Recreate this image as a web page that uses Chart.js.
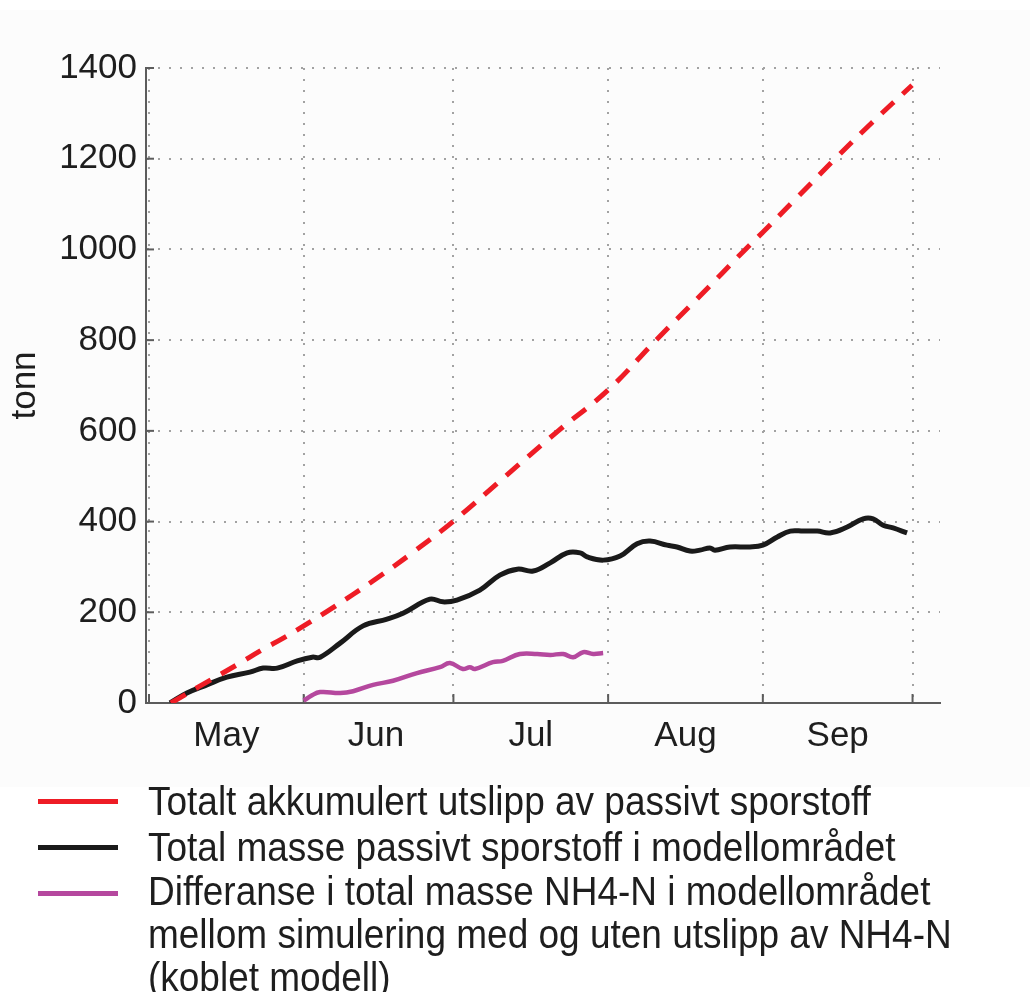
<!DOCTYPE html>
<html>
<head>
<meta charset="utf-8">
<script src="https://cdn.jsdelivr.net/npm/chart.js@4.4.0/dist/chart.umd.min.js"></script>
<style>
  body { margin: 0; background: #fff; font-family: "Liberation Sans", Arial, sans-serif; color: #1e1e1e; }
  #wrap { position: absolute; left: 0; top: 0; width: 1030px; height: 787px;
          background: linear-gradient(#fff 0, #fff 10px, #fcfcfc 10px); }
  .sw { position: absolute; left: 38px; width: 80px; height: 5px; }
  .lg { position: absolute; left: 148px; font-size: 41px; line-height: 44px; white-space: nowrap;
        transform: scaleX(0.902); transform-origin: 0 0; }
</style>
</head>
<body>
<div id="wrap"><canvas id="chart" width="1030" height="787"></canvas></div>

<div class="sw" style="top:799px;background:#ee1c25"></div>
<div class="sw" style="top:845px;background:#1a1a1a"></div>
<div class="sw" style="top:891px;background:#b5489e"></div>
<div class="lg" style="top:779px">Totalt akkumulert utslipp av passivt sporstoff</div>
<div class="lg" style="top:825px">Total masse passivt sporstoff i modellområdet</div>
<div class="lg" style="top:870px;line-height:43px">Differanse i total masse NH4-N i modellområdet<br>mellom simulering med og uten utslipp av NH4-N<br>(koblet modell)</div>

<script>
// x values are days since 1 May
const monthNames = ["May", "Jun", "Jul", "Aug", "Sep"];
const monthStarts = [0, 31, 61, 92, 123, 153];
const monthMids = [15.5, 45.5, 76.5, 107.5, 138];
const yTicks = [0, 200, 400, 600, 800, 1000, 1200, 1400];

// Totalt akkumulert utslipp (red dashed)
const emisDays = [4.4, 10, 17.6, 22.6, 26.9, 31.9, 36.7, 45, 53, 60.9, 71, 82, 92, 101.6, 110, 119.5, 123, 130, 137.5, 145, 152.9];
const emisTonn = [0, 36, 84, 117, 143, 176, 209, 270, 333, 400, 496, 600, 690, 800, 893, 1000, 1038, 1116, 1200, 1281, 1362];

// Total masse passivt sporstoff (black)
const massDays = [4.2, 7.6, 11.6, 15.6, 20.2, 22.9, 25.7, 29.7, 32.7, 34.3, 38.3, 42.9, 47.7, 50.9, 56.3, 58.9, 61.7, 66.3,
  70.3, 73.8, 77, 80.4, 83.8, 86.4, 87.8, 91, 94.4, 97.8, 100.4, 103.8, 105.8, 108.4, 110.4, 112.4, 113.4, 116.4, 120.4,
  123, 125.9, 128.5, 131.1, 133.9, 136.5, 139.9, 143.1, 145.1, 147.1, 149.1, 151.9];
const massTonn = [0, 22, 40, 57, 68, 77, 77, 93, 101, 101, 132, 170, 185, 198, 229, 223, 227, 249,
  282, 295, 291, 309, 331, 331, 322, 315, 324, 351, 357, 348, 344, 335, 337, 342, 337, 344, 344,
  348, 366, 379, 379, 379, 375, 388, 406, 406, 392, 386, 375];

// Differanse NH4-N (purple)
const diffDays = [31, 32.5, 34.3, 38.3, 40.9, 44.9, 48.9, 53.7, 58.3, 60.3, 62.9, 64.3, 65.3, 68.9, 70.9, 74.3, 77.8, 80.4, 83, 85, 87, 89, 91];
const diffTonn = [5, 16, 24, 22, 26, 40, 49, 66, 79, 88, 75, 79, 75, 90, 93, 108, 108, 106, 108, 101, 112, 108, 110];

const toPoints = (xs, ys) => xs.map((x, i) => ({ x: x, y: ys[i] }));

const tickFont = { family: "'Liberation Sans', Arial, sans-serif", size: 35 };
const gridGray = "#a2a2a2";
const axisGray = "#5c5c5c";

// small tick marks pointing into the plot, like the original
const innerTicks = {
  id: "innerTicks",
  beforeDatasetsDraw(chart) {
    const { ctx, chartArea, scales } = chart;
    ctx.save();
    ctx.strokeStyle = axisGray;
    ctx.lineWidth = 2;
    yTicks.forEach((v) => {
      const y = scales.y.getPixelForValue(v);
      ctx.beginPath();
      ctx.moveTo(chartArea.left, y);
      ctx.lineTo(chartArea.left + 8, y);
      ctx.stroke();
    });
    monthStarts.forEach((d) => {
      const x = scales.x.getPixelForValue(d);
      ctx.beginPath();
      ctx.moveTo(x, chartArea.bottom);
      ctx.lineTo(x, chartArea.bottom - 9);
      ctx.stroke();
    });
    ctx.restore();
  },
};

new Chart(document.getElementById("chart"), {
  type: "line",
  data: {
    datasets: [
      {
        label: "Totalt akkumulert utslipp av passivt sporstoff",
        data: toPoints(emisDays, emisTonn),
        borderColor: "#ee1c25",
        borderWidth: 5,
        borderDash: [17, 12],
        tension: 0.4,
        pointRadius: 0,
      },
      {
        label: "Total masse passivt sporstoff i modellområdet",
        data: toPoints(massDays, massTonn),
        borderColor: "#1a1a1a",
        borderWidth: 5,
        tension: 0.4,
        pointRadius: 0,
      },
      {
        label: "Differanse i total masse NH4-N i modellområdet",
        data: toPoints(diffDays, diffTonn),
        borderColor: "#b5489e",
        borderWidth: 4.5,
        tension: 0.4,
        pointRadius: 0,
      },
    ],
  },
  options: {
    responsive: false,
    animation: false,
    events: [],
    layout: { padding: { top: 68, right: 90, left: 0, bottom: 0 } },
    plugins: { legend: { display: false }, tooltip: { enabled: false } },
    scales: {
      x: {
        type: "linear",
        min: -0.6,
        max: 158.5,
        afterBuildTicks: (scale) => {
          scale.ticks = monthStarts.concat(monthMids).sort((a, b) => a - b).map((v) => ({ value: v }));
        },
        afterFit: (scale) => { scale.height = 84; },
        ticks: {
          autoSkip: false,
          maxRotation: 0,
          padding: 12,
          color: "#1e1e1e",
          font: tickFont,
          callback: (value) => {
            const i = monthMids.indexOf(value);
            return i >= 0 ? monthNames[i] : "";
          },
        },
        grid: {
          drawTicks: false,
          lineWidth: 2,
          color: (ctx) => (ctx.tick && monthStarts.includes(ctx.tick.value) ? gridGray : "rgba(0,0,0,0)"),
        },
        border: { display: true, color: axisGray, width: 2, dash: [2, 9] },
      },
      y: {
        min: 0,
        max: 1400,
        afterBuildTicks: (scale) => { scale.ticks = yTicks.map((v) => ({ value: v })); },
        afterFit: (scale) => { scale.width = 146; },
        ticks: { padding: 9, color: "#1e1e1e", font: tickFont, callback: (v) => String(v) },
        grid: { drawTicks: false, lineWidth: 2, color: gridGray },
        border: { display: true, color: axisGray, width: 2, dash: [2, 9] },
        title: {
          display: true,
          text: "tonn",
          color: "#1e1e1e",
          font: tickFont,
          padding: { top: 4, bottom: 0 },
        },
      },
    },
  },
  plugins: [innerTicks],
});
</script>
</body>
</html>
